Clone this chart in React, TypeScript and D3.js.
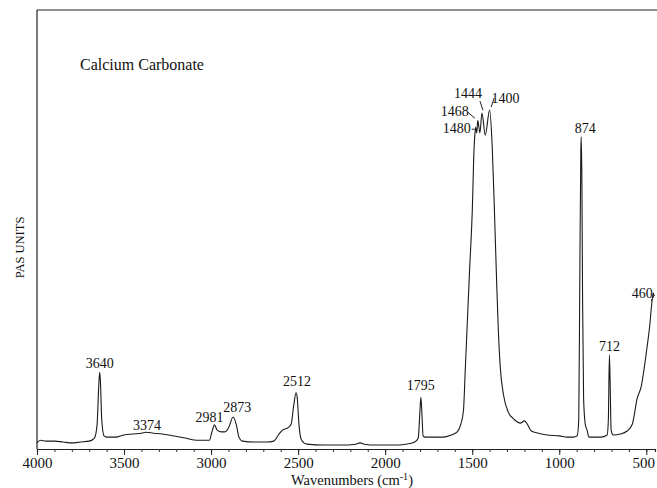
import React, { useEffect, useRef } from "react";
import * as d3 from "d3";

// spectrum (wavenumber cm-1, PAS units 0..100)
const WAVENUMBERS = [
  4000, 3980, 3950, 3900, 3850, 3800, 3750, 3700, 3670, 3655, 3645, 3640, 3636, 3628, 3615, 3600,
  3550, 3500, 3450, 3400, 3374, 3330, 3280, 3220, 3150, 3080, 3010, 2995, 2981, 2965, 2940, 2920,
  2900, 2873, 2855, 2840, 2820, 2750, 2680, 2640, 2610, 2590, 2560, 2540, 2525, 2512, 2505, 2495,
  2480, 2450, 2350, 2250, 2170, 2144, 2120, 2050, 1950, 1880, 1830, 1810, 1800, 1795, 1790, 1782,
  1770, 1720, 1667, 1620, 1586, 1565, 1550, 1540, 1530, 1515, 1500, 1489, 1484, 1480, 1474, 1468,
  1456, 1444, 1425, 1400, 1385, 1372, 1360, 1350, 1339, 1320, 1293, 1260, 1224, 1200, 1184, 1160,
  1120, 1069, 1000, 954, 920, 897, 888, 882, 876, 874, 870, 866, 860, 850, 840, 830,
  800, 760, 725, 718, 712, 708, 702, 690, 650, 610, 580, 552, 530, 500, 480, 465,
  460, 455,
];
const INTENSITY = [
  1.4, 2.0, 1.8, 1.8, 1.6, 1.4, 1.6, 1.8, 2.5, 5.5, 14.6, 17.5, 15.7, 6.6, 3.0, 2.7,
  2.7, 3.2, 3.4, 3.6, 3.8, 3.6, 3.4, 3.0, 2.5, 2.0, 2.0, 3.9, 5.5, 4.3, 3.9, 3.9,
  4.8, 7.3, 5.5, 2.7, 1.8, 1.6, 1.6, 1.8, 3.4, 4.3, 4.8, 5.7, 10.0, 12.8, 11.6, 5.5,
  2.0, 1.1, 0.9, 0.9, 1.1, 1.4, 1.1, 0.9, 0.9, 1.1, 1.6, 2.5, 8.9, 11.8, 8.9, 3.0,
  2.7, 2.7, 2.7, 3.2, 3.9, 5.7, 8.9, 18.0, 27.1, 40.8, 53.8, 68.8, 72.0, 73.3, 72.0, 74.9,
  72.0, 76.5, 71.5, 77.2, 68.8, 53.8, 38.5, 27.1, 18.7, 12.3, 8.4, 6.8, 5.9, 6.4, 5.7, 4.1,
  3.6, 3.2, 3.0, 2.7, 2.7, 3.0, 6.6, 38.5, 68.1, 71.1, 61.3, 33.9, 11.2, 5.5, 4.3, 2.7,
  2.7, 2.7, 3.2, 6.6, 21.4, 15.7, 4.3, 3.2, 3.4, 4.1, 5.7, 11.6, 14.1, 21.9, 28.2, 34.4,
  35.5, 34.9,
];

const PEAK_LABELS = ["3640", "3374", "2981", "2873", "2512", "1795", "1480", "1468", "1444", "1400", "874", "712", "460"];
const X_TICKS = [4000, 3500, 3000, 2500, 2000, 1500, 1000, 500];

// label placement relative to the peak top: [dx, dy, leader]
const LABEL_LAYOUT: Record<string, { dx: number; dy: number; leader?: number[] }> = {
  "3640": { dx: 0, dy: -4 },
  "3374": { dx: 1, dy: -2 },
  "2981": { dx: -5, dy: -3 },
  "2873": { dx: 4, dy: -5 },
  "2512": { dx: 1, dy: -7 },
  "1795": { dx: 0, dy: -7 },
  "1480": { dx: -19, dy: 6, leader: [-4, 2, -1, 2] },
  "1468": { dx: -23, dy: -4, leader: [-10, -8, -3, -2] },
  "1444": { dx: -14, dy: -15, leader: [-2, -12, 1, -3] },
  "1400": { dx: 16, dy: -7, leader: [4.5, -12, 1.5, -3] },
  "874": { dx: 4, dy: -4 },
  "712": { dx: 0, dy: -4 },
  "460": { dx: -11, dy: 5, leader: [-2, 8, 1, 2] },
};

const W = 657;
const H = 488;
const FONT = "'Liberation Serif', 'Times New Roman', serif";

export default function App() {
  const ref = useRef<SVGSVGElement>(null);

  useEffect(() => {
    const svg = d3.select(ref.current);
    svg.selectAll("*").remove();

    const x = d3.scaleLinear().domain([4000, 450]).range([37, 655]);
    const y = d3.scaleLinear().domain([0, 100]).range([449, 10]);
    const data = WAVENUMBERS.map((w, i) => ({ w, v: INTENSITY[i] }));

    // frame: left and top
    svg.append("line")
      .attr("x1", x(4000)).attr("x2", x(4000))
      .attr("y1", y(100)).attr("y2", y(0))
      .attr("stroke", "#222").attr("stroke-width", 1.2);
    svg.append("line")
      .attr("x1", x(4000)).attr("x2", W)
      .attr("y1", y(100)).attr("y2", y(100))
      .attr("stroke", "#222").attr("stroke-width", 1.2);

    // bottom axis, minor ticks every 100
    svg.append("g")
      .attr("transform", "translate(0," + y(0) + ")")
      .call(d3.axisBottom(x).tickValues(d3.range(4000, 449, -100)).tickSize(3).tickFormat(() => ""))
      .call(g => g.select(".domain").attr("stroke", "#222").attr("stroke-width", 1.2))
      .call(g => g.selectAll(".tick line").attr("stroke", "#333"));

    svg.append("g")
      .attr("transform", "translate(0," + y(0) + ")")
      .call(d3.axisBottom(x).tickValues(X_TICKS).tickSize(6).tickPadding(2).tickFormat(d3.format("d")))
      .call(g => g.select(".domain").remove())
      .call(g => g.selectAll(".tick line").attr("stroke", "#222"))
      .call(g => g.selectAll("text")
        .attr("font-family", FONT).attr("font-size", 15).attr("fill", "#111"))
      .call(g => g.selectAll<SVGTextElement, number>("text")
        .filter(d => d === 500).attr("dx", -3));

    // spectrum
    const line = d3.line<{ w: number; v: number }>()
      .x(d => x(d.w))
      .y(d => y(d.v))
      .curve(d3.curveMonotoneX);
    svg.append("path")
      .datum(data)
      .attr("d", line)
      .attr("fill", "none")
      .attr("stroke", "#1a1a1a")
      .attr("stroke-width", 1.1);

    // peak labels
    const peakTop = (wn: number) => {
      const near = data.filter(d => Math.abs(d.w - wn) <= 4);
      return d3.max(near, d => d.v) ?? 0;
    };
    PEAK_LABELS.forEach(label => {
      const wn = +label;
      const px = x(wn);
      const py = y(peakTop(wn));
      const lay = LABEL_LAYOUT[label];
      svg.append("text")
        .attr("x", px + lay.dx)
        .attr("y", py + lay.dy)
        .attr("text-anchor", "middle")
        .attr("font-family", FONT)
        .attr("font-size", 14)
        .attr("fill", "#111")
        .text(label);
      if (lay.leader) {
        svg.append("line")
          .attr("x1", px + lay.leader[0]).attr("y1", py + lay.leader[1])
          .attr("x2", px + lay.leader[2]).attr("y2", py + lay.leader[3])
          .attr("stroke", "#222").attr("stroke-width", 1);
      }
    });

    // titles
    svg.append("text")
      .attr("x", 80).attr("y", 70)
      .attr("font-family", FONT).attr("font-size", 16).attr("fill", "#111")
      .text("Calcium Carbonate");

    const xl = svg.append("text")
      .attr("x", (x(4000) + x(450)) / 2 + 6).attr("y", 485)
      .attr("text-anchor", "middle")
      .attr("font-family", FONT).attr("font-size", 14.5).attr("fill", "#111");
    xl.append("tspan").text("Wavenumbers (cm");
    xl.append("tspan").attr("font-size", 10).attr("dy", -5).text("-1");
    xl.append("tspan").attr("dy", 5).text(")");

    const yMid = (y(0) + y(100)) / 2 + 18;
    svg.append("text")
      .attr("transform", "translate(24," + yMid + ") rotate(-90)")
      .attr("text-anchor", "middle")
      .attr("font-family", FONT).attr("font-size", 12.5).attr("fill", "#111")
      .text("PAS UNITS");
  }, []);

  return (
    <svg
      ref={ref}
      width={W}
      height={H}
      viewBox={"0 0 " + W + " " + H}
      style={{ position: "absolute", left: 0, top: 0, background: "#fff" }}
    />
  );
}
